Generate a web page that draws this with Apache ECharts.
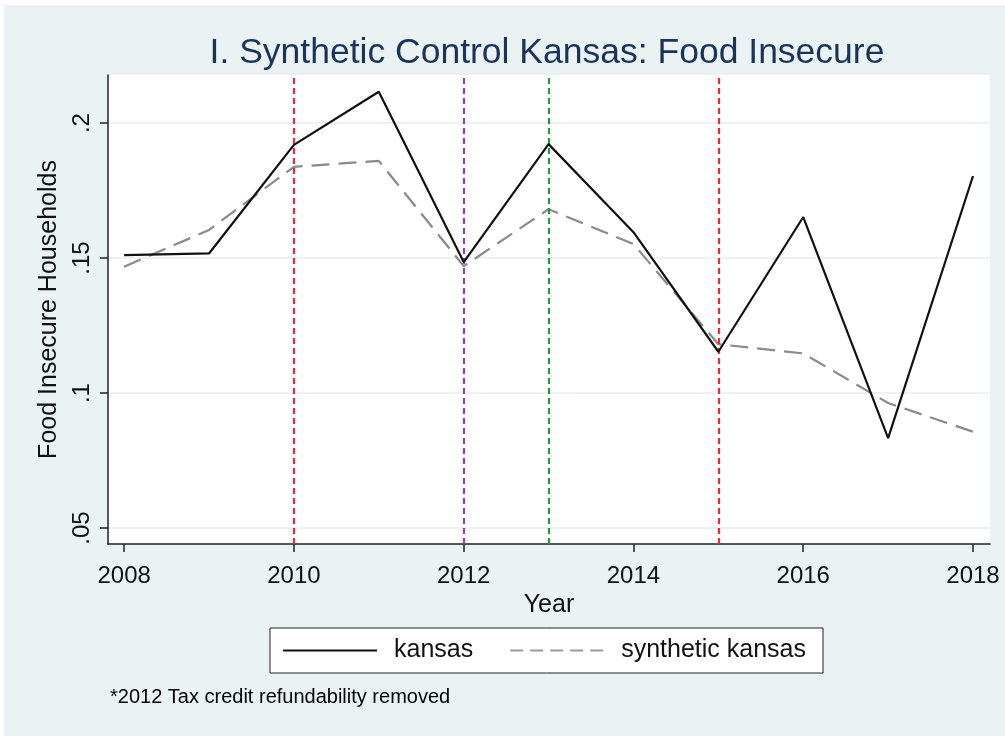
<!DOCTYPE html>
<html>
<head>
<meta charset="utf-8">
<script src="https://cdn.jsdelivr.net/npm/echarts@6/dist/echarts.min.js"></script>
<style>
  html, body { margin: 0; padding: 0; background: #ffffff; }
  #chart { position: absolute; left: 4px; top: 5px; width: 1001px; height: 731px; }
</style>
</head>
<body>
<div id="chart"></div>
<script>
// Food insecure share of households, Kansas vs. its synthetic control
const years = [2008, 2009, 2010, 2011, 2012, 2013, 2014, 2015, 2016, 2017, 2018];
const kansas = [0.1511, 0.1517, 0.1919, 0.2116, 0.1485, 0.1922, 0.1596, 0.1153, 0.1652, 0.0833, 0.1804];
const syntheticKansas = [0.1468, 0.1604, 0.1838, 0.1860, 0.1470, 0.1681, 0.1552, 0.1181, 0.1147, 0.0963, 0.0857];
const xTicks = [2008, 2010, 2012, 2014, 2016, 2018];
const yTicks = [0.05, 0.1, 0.15, 0.2];
const yTickLabels = ['.05', '.1', '.15', '.2'];
// policy years marked with vertical reference lines
const eventYears = [2010, 2012, 2013, 2015];
const eventColors = ['#ee2a36', '#a23ab8', '#22993a', '#ee2a36'];

const FONT = 'Liberation Sans, Arial, sans-serif';
const chart = echarts.init(document.getElementById('chart'), null, { renderer: 'canvas' });

const toPairs = (vals) => years.map((y, i) => [y, vals[i]]);

chart.setOption({
  backgroundColor: '#eaf2f3',
  animation: false,
  textStyle: { fontFamily: FONT },
  grid: { left: 104, top: 70, right: 15, bottom: 192, containLabel: false, backgroundColor: '#ffffff', show: true, borderWidth: 0 },
  graphic: [
    {
      type: 'text', x: 543, y: 48,
      style: { text: 'I. Synthetic Control Kansas: Food Insecure', fill: '#1a3358', font: '35.5px ' + FONT, textAlign: 'center', textVerticalAlign: 'middle' }
    },
    {
      type: 'text', x: 106, y: 692,
      style: { text: '*2012 Tax credit refundability removed', fill: '#000000', font: '20px ' + FONT, textAlign: 'left', textVerticalAlign: 'middle' }
    }
  ],
  legend: {
    left: 266, top: 623,
    padding: [10, 17, 10, 12],
    itemGap: 36,
    itemWidth: 94, itemHeight: 16,
    borderColor: '#222222', borderWidth: 1, backgroundColor: '#ffffff',
    itemStyle: { opacity: 0 },
    textStyle: { fontSize: 25, color: '#111111', fontFamily: FONT, padding: [0, 0, 0, 12] },
    data: [
      { name: 'kansas' },
      { name: 'synthetic kansas', lineStyle: { type: [13, 7], color: '#9a9a9a' } }
    ]
  },
  xAxis: {
    type: 'value',
    min: 2007.81, max: 2018.2,
    name: 'Year', nameLocation: 'middle', nameGap: 46,
    nameTextStyle: { fontSize: 25, color: '#111111', fontFamily: FONT },
    axisLine: { show: true, onZero: false, lineStyle: { color: '#222222', width: 1.5 } },
    axisTick: { show: true, length: 8, customValues: xTicks, lineStyle: { color: '#222222', width: 1.5 } },
    axisLabel: { customValues: xTicks, fontSize: 24, color: '#111111', margin: 20, formatter: (v) => String(v) },
    splitLine: { show: false }
  },
  yAxis: {
    type: 'value',
    min: 0.0441, max: 0.2178,
    name: 'Food Insecure Households', nameLocation: 'middle', nameGap: 43, nameRotate: 90,
    nameTextStyle: { fontSize: 25, color: '#111111', fontFamily: FONT },
    axisLine: { show: true, onZero: false, lineStyle: { color: '#222222', width: 1.5 } },
    axisTick: { show: true, length: 8, customValues: yTicks, lineStyle: { color: '#222222', width: 1.5 } },
    axisLabel: {
      customValues: yTicks, rotate: 90, fontSize: 24, color: '#111111', margin: 14,
      formatter: (v) => yTickLabels[yTicks.findIndex(t => Math.abs(t - v) < 1e-6)] || ''
    },
    splitLine: { show: true, lineStyle: { color: '#e6eef0', width: 1.5 } }
  },
  series: [
    {
      name: 'kansas', type: 'line', data: toPairs(kansas),
      showSymbol: false, symbol: 'none', z: 5,
      lineStyle: { color: '#111111', width: 2.2 },
      itemStyle: { color: '#111111' },
      markLine: {
        silent: true, symbol: 'none', label: { show: false },
        data: eventYears.map((y, i) => ({ xAxis: y, lineStyle: { color: eventColors[i], type: [6, 4], width: 2.2 } }))
      }
    },
    {
      name: 'synthetic kansas', type: 'line', data: toPairs(syntheticKansas),
      showSymbol: false, symbol: 'none', z: 4,
      lineStyle: { color: '#8a8a8a', width: 2.2, type: [18, 9] },
      itemStyle: { color: '#8a8a8a' }
    }
  ]
});
</script>
</body>
</html>
